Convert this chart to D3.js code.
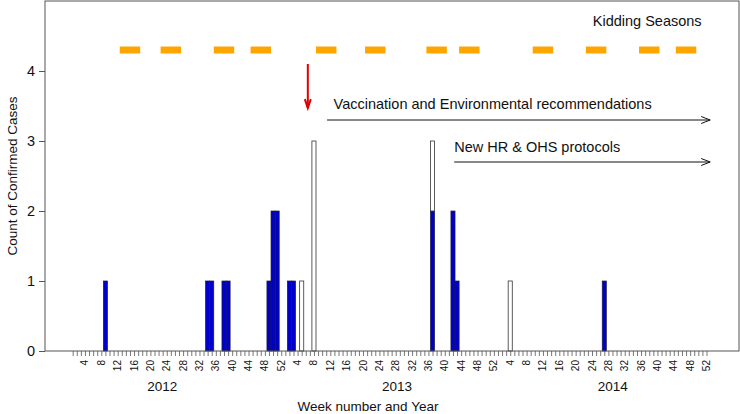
<!DOCTYPE html>
<html><head><meta charset="utf-8">
<script src="https://cdn.jsdelivr.net/npm/d3@7"></script>
<style>body{margin:0;background:#fff}svg{display:block}text{font-family:"Liberation Sans",Arial,Helvetica,sans-serif}</style>
</head><body><svg id="c" width="740" height="414"></svg>
<script>
// ---- data ----
const years = [2012, 2013, 2014];
const weeksPerYear = 52;
const weekTickLabels = [4, 8, 12, 16, 20, 24, 28, 32, 36, 40, 44, 48, 52];
const yTicks = [0, 1, 2, 3, 4];
// confirmed cases by week
const caseYear = [2012, 2012, 2012, 2012, 2012, 2012, 2012, 2012, 2013, 2013, 2013, 2013, 2013, 2013, 2013, 2014, 2014];
const caseWeek = [9, 34, 35, 38, 39, 49, 50, 51, 2, 3, 5, 8, 37, 42, 43, 4, 27];
const blueCases = [1, 1, 1, 1, 1, 1, 2, 2, 1, 1, 0, 0, 2, 2, 1, 0, 1];
const whiteCases = [0, 0, 0, 0, 0, 0, 0, 0, 0, 0, 1, 3, 1, 0, 0, 1, 0];
// kidding seasons
const kidYear = [2012, 2012, 2012, 2012, 2013, 2013, 2013, 2013, 2014, 2014, 2014, 2014];
const kidStart = [13, 23, 36, 45, 9, 21, 36, 44, 10, 23, 36, 45];
const kidEnd = [17, 27, 40, 49, 13, 25, 40, 48, 14, 27, 40, 49];
const kidLevel = 4.3;
// annotations (week index, value)
const redArrow = {week: 58.5, from: 4.1, to: 3.47};
const vaccArrow = {from: 63.2, to: 156.9, level: 3.3, text: "Vaccination and Environmental recommendations", textWeek: 103.7, textLevel: 3.53};
const hrArrow = {from: 94.3, to: 156.9, level: 2.7, text: "New HR & OHS protocols", textWeek: 114.6, textLevel: 2.91};
const kidText = {text: "Kidding Seasons", week: 141.5, level: 4.71};
const yearLabelWeek = [22.9, 80.3, 133.1];

// ---- layout ----
const L = 45, R = 739, T = 1, B = 351;
const nWeeks = years.length * weeksPerYear;
const idx = (y, w) => (y - years[0]) * weeksPerYear + w;
const x = d3.scaleLinear().domain([1, nWeeks]).range([72.7, 706.5]);
const bw = x(2) - x(1);
const y = d3.scaleLinear().domain([0, 5]).range([B, T]);
const svg = d3.select("#c");

// bars
const bars = caseWeek.map((w, k) => ({i: idx(caseYear[k], w), b: blueCases[k], wv: whiteCases[k]}));
svg.append("g").selectAll("rect.b").data(bars.filter(d => d.b > 0)).join("rect")
  .attr("x", d => x(d.i) - bw / 2).attr("width", bw)
  .attr("y", d => y(d.b)).attr("height", d => y(0) - y(d.b))
  .attr("fill", "#0000cd").attr("stroke", "#1a1a40").attr("stroke-width", 0.7);
svg.append("g").selectAll("rect.w").data(bars.filter(d => d.wv > 0)).join("rect")
  .attr("x", d => x(d.i) - bw / 2).attr("width", bw)
  .attr("y", d => y(d.b + d.wv)).attr("height", d => y(d.b) - y(d.b + d.wv))
  .attr("fill", "#fff").attr("stroke", "#333").attr("stroke-width", 0.8);

// box
svg.append("rect").attr("x", L).attr("y", T).attr("width", R - L).attr("height", B - T)
  .attr("fill", "none").attr("stroke", "#555").attr("stroke-width", 1);

// y axis
const yAxis = svg.append("g").attr("transform", `translate(${L},0)`)
  .call(d3.axisLeft(y).tickValues(yTicks).tickFormat(d3.format("d")).tickSize(6).tickPadding(4));
yAxis.select(".domain").remove();
yAxis.selectAll("line").attr("stroke", "#555");
yAxis.selectAll("text").attr("font-size", 14.5).attr("fill", "#111").attr("font-family", "Liberation Sans, Arial, sans-serif");

// x axis: weekly ticks
const allWeeks = d3.range(1, nWeeks + 1);
const xAxis = svg.append("g").attr("transform", `translate(0,${B})`)
  .call(d3.axisBottom(x).tickValues(allWeeks).tickSize(5).tickFormat(""));
xAxis.select(".domain").remove();
xAxis.selectAll("line").attr("stroke", "#555").attr("stroke-width", 0.8);
// week labels
const labelData = [];
years.forEach(yr => weekTickLabels.forEach(w => labelData.push({i: idx(yr, w), t: w})));
svg.append("g").selectAll("text").data(labelData).join("text")
  .attr("transform", d => `translate(${x(d.i) + 3.5},${B + 9}) rotate(-90)`)
  .attr("text-anchor", "end").attr("font-size", 10).attr("fill", "#111").text(d => d.t);
// year labels
svg.append("g").selectAll("text").data(years).join("text")
  .attr("x", (d, k) => x(yearLabelWeek[k])).attr("y", 391)
  .attr("text-anchor", "middle").attr("font-size", 13.5).attr("fill", "#111").text(d => d);
svg.append("text").attr("x", 368).attr("y", 411).attr("text-anchor", "middle")
  .attr("font-size", 13.5).attr("fill", "#111").text("Week number and Year");
svg.append("text").attr("transform", `translate(17,${(T + B) / 2}) rotate(-90)`)
  .attr("text-anchor", "middle").attr("font-size", 13.5).attr("fill", "#111").text("Count of Confirmed Cases");

// kidding seasons
svg.append("g").selectAll("rect").data(kidStart.map((s, k) => ({s: idx(kidYear[k], s), e: idx(kidYear[k], kidEnd[k])}))).join("rect")
  .attr("x", d => x(d.s - 0.5)).attr("width", d => x(d.e + 0.5) - x(d.s - 0.5))
  .attr("y", y(kidLevel) - 3.5).attr("height", 7).attr("fill", "#ffa500");
svg.append("text").attr("x", x(kidText.week)).attr("y", y(kidText.level)).attr("dy", "0.35em")
  .attr("text-anchor", "middle").attr("font-size", 14.5).attr("fill", "#111").text(kidText.text);

// red arrow
function arrowV(g, xx, y0, y1, color, w) {
  g.append("line").attr("x1", xx).attr("x2", xx).attr("y1", y0).attr("y2", y1).attr("stroke", color).attr("stroke-width", w);
  g.append("path").attr("d", `M${xx - 3},${y1 - 9}L${xx},${y1}L${xx + 3},${y1 - 9}`)
    .attr("fill", "none").attr("stroke", color).attr("stroke-width", w);
}
arrowV(svg, x(redArrow.week), y(redArrow.from), y(redArrow.to), "#e00000", 2);

function arrowH(a) {
  const x0 = x(a.from), x1 = x(a.to), yy = y(a.level);
  svg.append("line").attr("x1", x0).attr("x2", x1).attr("y1", yy).attr("y2", yy).attr("stroke", "#111").attr("stroke-width", 1);
  svg.append("path").attr("d", `M${x1 - 9},${yy - 3.5}L${x1},${yy}L${x1 - 9},${yy + 3.5}`)
    .attr("fill", "none").attr("stroke", "#111").attr("stroke-width", 1);
  svg.append("text").attr("x", x(a.textWeek)).attr("y", y(a.textLevel)).attr("dy", "0.35em")
    .attr("text-anchor", "middle").attr("font-size", 14.5).attr("fill", "#111").text(a.text);
}
arrowH(vaccArrow);
arrowH(hrArrow);
</script></body></html>
